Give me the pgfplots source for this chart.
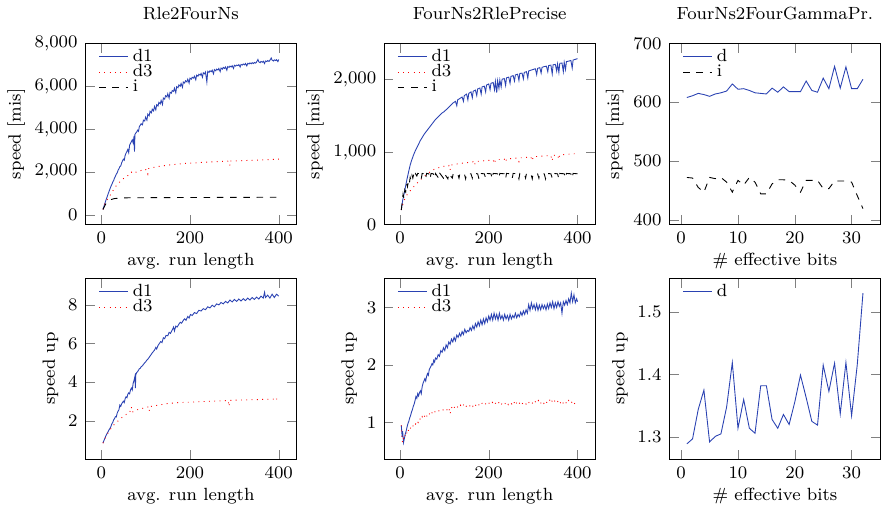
\documentclass[border=0pt]{standalone}
\usepackage{pgfplots}
\pgfplotsset{compat=1.18}

\definecolor{dblue}{RGB}{42,66,178}

\pgfplotsset{
  panel/.style={
    width=95.7pt, height=82pt, scale only axis,
    anchor=south west,
    legend style={draw=none, fill=none, at={(0.03,1.02)}, anchor=north west,
      font=\footnotesize, row sep=-4pt},
    legend cell align=left,
    legend image code/.code={\draw[mark repeat=2,mark phase=2]
      plot coordinates {(0cm,0cm) (0.23cm,0cm) (0.46cm,0cm)};},
    title style={yshift=1pt},
    ylabel style={yshift=-2.5pt},
    xlabel style={yshift=2.5pt},
  },
  runlen/.style={panel, xmin=-36, xmax=440, xtick={0,200,400},
    xlabel={avg. run length}},
  bits/.style={panel, xmin=-2.1, xmax=35.1, xtick={0,10,20,30},
    xlabel={\# effective bits}},
  d1/.style={dblue},
  d3/.style={red, dotted},
  ii/.style={black, dashed},
}

\begin{document}
\begin{tikzpicture}[font=\footnotesize]

% ---- top row: speed ----
\begin{axis}[runlen, at={(0pt,106.3pt)}, title={Rle2FourNs},
  ylabel={speed [mis]}, ymin=-450, ymax=8000, ytick={0,2000,4000,6000,8000}]
\addplot[d1] coordinates {
(4,250)(6,380)(8,520)(10,640)(12,760)(14,880)(16,1000)(18,1110)(20,1230)(22,1330)(24,1420)(26,1530)(28,1600)(30,1720)(32,1800)(34,1900)(36,1960)(38,2080)(40,2150)(42,2250)(44,2280)(46,2420)(48,2520)(50,2600)(52,2550)(54,2780)(56,2880)(58,2960)(60,3050)(62,2900)(64,3250)(66,3330)(68,3420)(70,3500)(72,3350)(74,3680)(75,2950)(76,3750)(78,3820)(80,3870)(82,3950)(84,3900)(86,4120)(88,4180)(90,4250)
(93,4200)(95,4420)(98,4380)(100,4560)(103,4420)(105,4700)(108,4620)(110,4830)(113,4760)(115,4930)(118,4850)(120,5060)(123,4900)(125,5140)(128,5080)(130,5250)(133,5180)(135,5340)(138,5150)(140,5450)(143,5400)(145,5560)(148,5500)(150,5650)(153,5450)(155,5720)(158,5680)(160,5800)(163,5760)(165,5910)(168,5700)(170,5980)(173,5930)(175,6060)(178,6000)(180,6130)(183,5950)(185,6200)(188,6150)(190,6260)(193,6200)(195,6330)(198,6150)(200,6380)(203,6330)(205,6420)(208,6380)(210,6470)(213,6300)(215,6520)(218,6470)(220,6560)(223,6520)(225,6600)(228,6420)(230,6630)(233,6580)(235,6660)(238,6200)(240,6700)(243,6650)(245,6720)(248,6680)(250,6750)(253,6580)(255,6780)(258,6720)(260,6800)(263,6760)(265,6830)(268,6680)(270,6850)(273,6800)(275,6880)(278,6830)(280,6900)(283,6750)(285,6920)(288,6880)(290,6940)(293,6900)(295,6960)(298,6830)(300,6980)(303,6940)(305,6990)(308,6960)(310,7010)(313,6900)(315,7020)(318,6990)(320,7040)(323,7000)(325,7060)(328,6950)(330,7070)(333,7040)(335,7090)(338,7050)(340,7100)(343,7060)(345,7110)(348,7080)(350,7130)(353,7250)(355,7140)(358,7100)(360,7160)(363,7120)(365,7170)(368,7060)(370,7180)(373,7150)(375,7200)(378,7160)(380,7210)(383,7320)(385,7220)(388,7180)(390,7230)(393,7200)(395,7240)(398,7150)(400,7250)
};
\addplot[d3] coordinates {
(4,250)(6,400)(8,500)(10,580)(12,650)(14,720)(16,790)(18,850)(20,910)(22,980)(24,1040)(26,1110)(28,1180)(30,1250)(33,1330)(36,1410)(40,1500)(44,1580)(48,1660)(52,1720)(56,1780)(60,1830)(64,1870)(68,1990)(70,1930)(75,1970)(80,2000)(85,2040)(90,2070)(95,2100)(100,2130)(105,1900)(107,2160)(110,2170)(115,2200)(120,2220)(125,2240)(130,2260)(135,2270)(140,2290)(145,2300)(150,2320)(155,2330)(160,2340)(165,2350)(170,2360)(175,2370)(180,2380)(185,2390)(190,2400)(195,2400)(200,2410)(210,2420)(220,2440)(230,2450)(240,2460)(250,2470)(260,2480)(270,2490)(280,2500)(288,2510)(290,2300)(292,2510)(300,2515)(310,2520)(320,2530)(330,2540)(340,2545)(350,2555)(360,2560)(370,2570)(380,2580)(390,2590)(400,2600)
};
\addplot[ii] coordinates {
(4,250)(6,340)(8,420)(10,500)(12,560)(14,610)(16,650)(18,680)(20,700)(25,730)(30,760)(35,770)(40,780)(50,790)(60,795)(80,800)(100,800)(150,805)(200,810)(250,812)(300,815)(350,818)(400,820)
};
\legend{d1,d3,i}
\end{axis}

\begin{axis}[runlen, at={(135.3pt,106.3pt)}, title={FourNs2RlePrecise},
  ylabel={speed [mis]}, ymin=0, ymax=2500, ytick={0,1000,2000}]
\addplot[d1] coordinates {
(3,200)(5,290)(7,360)(10,440)(13,540)(16,630)(20,740)(23,820)(26,880)(30,950)(34,1010)(38,1060)(42,1110)(46,1160)(50,1200)(55,1250)(60,1290)(65,1330)(70,1370)(75,1410)(80,1450)(85,1480)(90,1510)(95,1540)(100,1560)(105,1590)(110,1620)(115,1650)(120,1680)(125,1700)(128,1640)(130,1720)(135,1740)(140,1760)(143,1700)(145,1780)(150,1800)(153,1720)(155,1810)(160,1830)(163,1750)(165,1840)(170,1855)(173,1780)(175,1870)(180,1885)(183,1800)(185,1900)(190,1910)(193,1830)(195,1925)(200,1940)(203,1860)(205,1950)(210,1960)(213,1860)(215,1975)(218,1820)(220,1985)(223,1880)(225,1995)(228,1900)(230,2005)(235,2015)(238,1920)(240,2025)(245,2035)(248,1950)(250,2045)(255,2055)(258,1980)(260,2065)(265,2075)(268,1990)(270,2085)(275,2090)(278,2010)(280,2100)(285,2110)(288,2020)(290,2120)(295,2130)(300,2140)(305,2150)(308,2070)(310,2155)(315,2165)(318,2090)(320,2170)(325,2180)(330,2185)(333,2110)(335,2195)(340,2200)(343,2080)(345,2205)(350,2210)(353,2120)(355,2215)(358,2100)(360,2225)(365,2230)(368,2110)(370,2240)(373,2140)(375,2250)(380,2255)(385,2265)(388,2160)(390,2270)(395,2280)(400,2290)
};
\addplot[d3] coordinates {
(3,200)(5,250)(8,310)(10,340)(13,380)(16,410)(20,440)(25,480)(30,515)(35,550)(40,580)(45,610)(50,640)(55,665)(60,690)(65,715)(70,735)(75,755)(80,770)(85,780)(90,790)(95,795)(100,805)(105,810)(110,815)(113,750)(115,820)(120,825)(125,830)(130,838)(135,842)(140,846)(145,850)(150,852)(155,858)(160,862)(165,866)(168,820)(170,870)(175,872)(180,875)(185,878)(190,880)(195,882)(200,885)(205,888)(210,890)(213,840)(215,892)(220,895)(225,898)(230,900)(235,903)(238,860)(240,905)(245,908)(250,910)(255,913)(260,915)(265,917)(268,870)(270,920)(275,922)(280,925)(285,927)(290,930)(295,932)(298,880)(300,935)(305,937)(310,940)(315,942)(320,944)(325,946)(330,948)(335,950)(340,952)(343,880)(345,954)(350,956)(355,958)(358,900)(360,960)(365,962)(370,965)(375,967)(380,970)(385,972)(390,975)(395,977)(400,980)
};
\addplot[ii] coordinates {
(3,200)(5,300)(7,420)(9,360)(11,480)(13,450)(15,560)(17,520)(19,600)(21,560)(23,650)(25,610)(27,680)(29,640)(31,690)(33,650)(35,700)(38,670)(40,705)(45,700)(48,630)(50,705)(55,700)(58,640)(60,705)(65,700)(68,630)(70,705)(75,700)(78,640)(80,705)(88,630)(90,705)(98,640)(100,705)(108,630)(110,705)(118,640)(120,705)(130,700)(133,640)(135,705)(145,700)(148,630)(150,705)(160,700)(163,640)(165,705)(175,700)(178,630)(180,705)(190,700)(193,640)(195,705)(205,700)(208,630)(210,705)(220,700)(223,640)(225,705)(235,700)(238,630)(240,705)(250,700)(253,640)(255,705)(265,700)(268,630)(270,705)(280,700)(283,640)(285,705)(295,700)(298,630)(300,705)(310,700)(313,640)(315,705)(325,700)(328,630)(330,705)(340,700)(343,640)(345,705)(355,700)(358,630)(360,705)(370,700)(373,640)(375,705)(385,700)(388,640)(390,705)(400,700)
};
\legend{d1,d3,i}
\end{axis}

\begin{axis}[bits, at={(264.5pt,106.3pt)}, title={FourNs2FourGammaPr.},
  ylabel={speed [mis]}, ymin=392, ymax=700, ytick={400,500,600,700}]
\addplot[d1] coordinates {
(1,608)(2,611)(3,615)(4,613)(5,610)(6,614)(7,616)(8,619)(9,631)(10,622)(11,623)(12,620)(13,616)(14,615)(15,614)(16,624)(17,617)(18,626)(19,618)(20,618)(21,618)(22,636)(23,620)(24,617)(25,641)(26,623)(27,661)(28,624)(29,660)(30,623)(31,623)(32,639)
};
\addplot[ii] coordinates {
(1,472)(2,471)(3,455)(4,447)(5,472)(6,470)(7,472)(8,464)(9,447)(10,467)(11,459)(12,472)(13,464)(14,444)(15,444)(16,461)(17,468)(18,468)(19,467)(20,459)(21,447)(22,467)(23,467)(24,467)(25,453)(26,453)(27,466)(28,466)(29,466)(30,464)(31,441)(32,419)
};
\legend{d,i}
\end{axis}

% ---- bottom row: speed up ----
\begin{axis}[runlen, at={(0pt,0pt)}, ylabel={speed up},
  ymin=0.02, ymax=9.38, ytick={2,4,6,8}]
\addplot[d1] coordinates {
(4,0.85)(6,0.98)(8,1.08)(10,1.2)(12,1.3)(14,1.38)(16,1.46)(18,1.55)(20,1.62)(22,1.72)(24,1.85)(26,1.92)(28,2.05)(30,2.12)(32,2.22)(34,2.2)(36,2.4)(38,2.5)(40,2.58)(42,2.82)(44,2.75)(46,2.88)(48,2.95)(50,3.02)(52,2.95)(54,3.15)(56,3.25)(58,3.2)(60,3.38)(62,3.45)(64,3.4)(66,3.6)(68,3.7)(70,3.6)(72,3.95)(74,4.1)(76,4.3)(77,3.7)(78,4.4)(80,4.5)(82,4.55)(84,4.62)(86,4.7)(88,4.72)(90,4.8)(93,4.85)(96,4.95)(100,5.05)(103,5.15)(106,5.22)(110,5.35)(113,5.45)(116,5.55)(120,5.65)(123,5.8)(125,5.72)(128,5.9)(131,6.0)(134,6.1)(137,6.05)(140,6.3)(143,6.25)(146,6.42)(150,6.4)(153,6.58)(156,6.52)(160,6.7)(163,6.85)(165,6.65)(168,6.9)(171,6.85)(175,7.0)(178,7.1)(181,7.05)(185,7.2)(188,7.28)(191,7.2)(195,7.4)(198,7.32)(201,7.5)(205,7.45)(210,7.6)(215,7.55)(220,7.72)(225,7.68)(230,7.8)(235,7.75)(240,7.9)(245,7.84)(250,7.98)(255,7.9)(260,8.05)(265,8.0)(270,8.12)(275,8.05)(280,8.18)(285,8.1)(290,8.25)(295,8.15)(300,8.28)(305,8.18)(310,8.3)(315,8.2)(320,8.32)(325,8.22)(330,8.35)(335,8.25)(340,8.38)(345,8.28)(350,8.4)(355,8.3)(360,8.45)(365,8.35)(368,8.65)(370,8.38)(375,8.5)(380,8.35)(385,8.55)(390,8.38)(395,8.55)(400,8.45)
};
\addplot[d3] coordinates {
(4,0.85)(6,0.95)(8,1.05)(10,1.15)(12,1.25)(14,1.32)(16,1.4)(18,1.48)(20,1.55)(24,1.65)(28,1.78)(32,1.88)(36,1.95)(40,2.05)(44,2.12)(48,2.2)(52,2.28)(56,2.33)(60,2.38)(64,2.42)(68,2.72)(70,2.45)(74,2.5)(78,2.55)(82,2.58)(86,2.6)(90,2.63)(95,2.66)(100,2.7)(105,2.72)(108,2.5)(110,2.74)(115,2.76)(120,2.78)(130,2.82)(140,2.86)(150,2.9)(160,2.92)(170,2.94)(180,2.95)(190,2.96)(200,2.97)(210,2.98)(220,2.99)(230,3.0)(240,3.01)(250,3.02)(260,3.03)(270,3.04)(280,3.05)(286,3.06)(288,2.75)(290,3.06)(300,3.07)(310,3.08)(320,3.08)(330,3.09)(340,3.1)(350,3.1)(360,3.11)(370,3.12)(380,3.12)(390,3.13)(393,3.22)(395,3.13)(400,3.13)
};
\legend{d1,d3}
\end{axis}

\begin{axis}[runlen, at={(135.3pt,0pt)}, ylabel={speed up},
  ymin=0.36, ymax=3.51, ytick={1,2,3}]
\addplot[d1] coordinates {
(3,0.95)(5,0.75)(6,0.85)(8,0.65)(10,0.72)(12,0.8)(14,0.85)(16,0.92)(18,0.98)(20,1.02)(22,1.08)(24,1.12)(26,1.18)(28,1.22)(30,1.28)(32,1.32)(34,1.38)(36,1.45)(38,1.42)(40,1.5)(42,1.46)(44,1.52)(46,1.55)(48,1.5)(50,1.62)(52,1.68)(54,1.72)(56,1.76)(58,1.72)(60,1.8)(62,1.85)(64,1.82)(66,1.92)(68,1.95)(70,1.98)(72,2.02)(74,2.0)(76,2.08)(78,2.05)(80,2.12)(83,2.1)(86,2.18)(89,2.15)(92,2.25)(95,2.22)(98,2.3)(101,2.25)(104,2.35)(107,2.3)(110,2.4)(113,2.36)(116,2.45)(119,2.4)(122,2.48)(125,2.42)(128,2.52)(131,2.48)(134,2.55)(137,2.5)(140,2.58)(143,2.53)(146,2.62)(149,2.56)(152,2.6)(155,2.58)(158,2.65)(161,2.6)(164,2.68)(167,2.62)(170,2.72)(173,2.66)(176,2.75)(179,2.68)(182,2.78)(185,2.7)(188,2.8)(191,2.72)(194,2.82)(197,2.75)(200,2.85)(203,2.78)(206,2.88)(209,2.78)(212,2.9)(215,2.8)(218,2.88)(221,2.78)(224,2.9)(227,2.8)(230,2.86)(233,2.78)(236,2.88)(239,2.8)(242,2.86)(245,2.78)(248,2.88)(251,2.8)(254,2.86)(257,2.82)(260,2.9)(263,2.82)(266,2.88)(269,2.84)(272,2.92)(275,2.86)(278,2.94)(281,2.88)(284,2.96)(287,2.9)(290,3.05)(293,2.95)(296,3.08)(299,2.98)(302,3.05)(305,2.96)(308,3.06)(311,2.95)(314,3.04)(317,2.96)(320,3.05)(323,2.98)(326,3.04)(329,2.96)(332,3.06)(335,2.98)(338,3.08)(341,3.0)(344,3.1)(347,2.98)(350,3.08)(353,3.0)(356,3.1)(359,3.02)(362,3.08)(365,2.9)(368,3.1)(371,3.04)(374,3.12)(377,3.05)(380,3.15)(383,3.08)(386,3.25)(389,3.1)(392,3.22)(395,3.08)(398,3.15)(400,3.1)
};
\addplot[d3] coordinates {
(3,0.95)(5,0.7)(6,0.65)(8,0.72)(10,0.7)(12,0.78)(14,0.76)(16,0.84)(18,0.82)(20,0.9)(23,0.88)(26,0.95)(29,0.93)(32,0.99)(35,0.97)(38,1.03)(41,1.0)(44,1.07)(47,1.04)(50,1.1)(53,1.06)(56,1.12)(59,1.08)(62,1.14)(65,1.12)(68,1.18)(71,1.15)(74,1.19)(77,1.16)(80,1.2)(85,1.18)(90,1.22)(95,1.2)(100,1.24)(105,1.21)(110,1.26)(113,1.15)(116,1.25)(120,1.3)(124,1.24)(128,1.28)(132,1.25)(136,1.3)(140,1.26)(144,1.32)(148,1.27)(152,1.3)(156,1.27)(160,1.32)(164,1.28)(168,1.33)(172,1.28)(176,1.32)(180,1.29)(184,1.34)(188,1.3)(192,1.33)(196,1.3)(200,1.34)(204,1.31)(208,1.35)(212,1.3)(216,1.34)(220,1.31)(224,1.36)(228,1.31)(232,1.35)(236,1.32)(240,1.36)(244,1.31)(248,1.35)(252,1.32)(256,1.37)(260,1.3)(264,1.36)(268,1.32)(272,1.37)(276,1.33)(280,1.36)(284,1.32)(288,1.37)(292,1.33)(296,1.36)(300,1.32)(304,1.37)(308,1.33)(312,1.38)(316,1.32)(320,1.37)(324,1.33)(328,1.38)(332,1.33)(336,1.37)(340,1.42)(344,1.34)(348,1.38)(352,1.33)(356,1.37)(360,1.32)(364,1.38)(368,1.33)(372,1.37)(376,1.32)(380,1.38)(384,1.33)(388,1.36)(392,1.31)(396,1.37)(400,1.35)
};
\legend{d1,d3}
\end{axis}

\begin{axis}[bits, at={(264.5pt,0pt)}, ylabel={speed up},
  ymin=1.2645, ymax=1.554, ytick={1.3,1.4,1.5}]
\addplot[d1] coordinates {
(1,1.289)(2,1.297)(3,1.344)(4,1.375)(5,1.292)(6,1.301)(7,1.305)(8,1.348)(9,1.419)(10,1.314)(11,1.360)(12,1.314)(13,1.306)(14,1.382)(15,1.382)(16,1.328)(17,1.314)(18,1.336)(19,1.320)(20,1.356)(21,1.399)(22,1.363)(23,1.325)(24,1.319)(25,1.415)(26,1.373)(27,1.418)(28,1.337)(29,1.419)(30,1.334)(31,1.416)(32,1.530)
};
\legend{d}
\end{axis}

\end{tikzpicture}
\end{document}
